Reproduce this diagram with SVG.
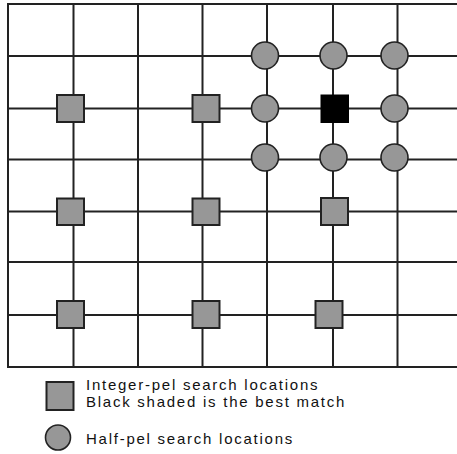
<svg xmlns="http://www.w3.org/2000/svg" width="457" height="454" viewBox="0 0 457 454">
<style>
.grid line{stroke:#222;stroke-width:2}
.sq{fill:#979797;stroke:#222;stroke-width:2}
.best{fill:#000;stroke:#000;stroke-width:1}
.ci{fill:#979797;stroke:#222;stroke-width:1.6}
.lbl{font-family:"Liberation Sans",Arial,sans-serif;font-size:15px;letter-spacing:1.75px;fill:#111}
</style>
<rect width="457" height="454" fill="#fff"/>
<g id="connectors" class="grid">
<line x1="8" y1="4" x2="8" y2="367"/>
<line x1="73.5" y1="4" x2="73.5" y2="367"/>
<line x1="138" y1="4" x2="138" y2="367"/>
<line x1="202.5" y1="4" x2="202.5" y2="367"/>
<line x1="267" y1="4" x2="267" y2="367"/>
<line x1="333" y1="4" x2="333" y2="367"/>
<line x1="397.5" y1="4" x2="397.5" y2="367"/>
<line x1="7" y1="4" x2="457" y2="4"/>
<line x1="8" y1="56" x2="457" y2="56"/>
<line x1="8" y1="108.5" x2="457" y2="108.5"/>
<line x1="8" y1="159.5" x2="457" y2="159.5"/>
<line x1="8" y1="211.5" x2="457" y2="211.5"/>
<line x1="8" y1="262" x2="457" y2="262"/>
<line x1="8" y1="315" x2="457" y2="315"/>
<line x1="7" y1="367" x2="457" y2="367"/>
</g>
<g id="int-1"><rect class="sq" x="57" y="95" width="27" height="27"/></g>
<g id="int-2"><rect class="sq" x="192.5" y="95" width="27" height="27"/></g>
<g id="int-3"><rect class="sq" x="57" y="198.5" width="27" height="26.5"/></g>
<g id="int-4"><rect class="sq" x="192.5" y="198.5" width="27" height="26.5"/></g>
<g id="int-5"><rect class="sq" x="321" y="198" width="27" height="27"/></g>
<g id="int-6"><rect class="sq" x="57" y="301" width="27" height="27"/></g>
<g id="int-7"><rect class="sq" x="192.5" y="301" width="27" height="27"/></g>
<g id="int-8"><rect class="sq" x="315.5" y="301" width="27" height="27"/></g>
<g id="best"><rect class="best" x="321" y="95" width="27.5" height="27.5"/></g>
<g id="half-1"><circle class="ci" cx="265" cy="55.5" r="13.5"/></g>
<g id="half-2"><circle class="ci" cx="333.5" cy="55.5" r="13.5"/></g>
<g id="half-3"><circle class="ci" cx="394.5" cy="55.5" r="13.5"/></g>
<g id="half-4"><circle class="ci" cx="265" cy="108.5" r="13.5"/></g>
<g id="half-5"><circle class="ci" cx="394.5" cy="108.5" r="13.5"/></g>
<g id="half-6"><circle class="ci" cx="265" cy="157.5" r="13.5"/></g>
<g id="half-7"><circle class="ci" cx="333.5" cy="157.5" r="13.5"/></g>
<g id="half-8"><circle class="ci" cx="394.5" cy="157.5" r="13.5"/></g>
<g id="legend">
<rect class="sq" x="46.5" y="382" width="27" height="28"/>
<circle class="ci" cx="58" cy="437.5" r="12.5"/>
<text class="lbl" x="86" y="389.5">Integer-pel search locations</text>
<text class="lbl" x="86" y="406.5">Black shaded is the best match</text>
<text class="lbl" x="86" y="444">Half-pel search locations</text>
</g>
</svg>
